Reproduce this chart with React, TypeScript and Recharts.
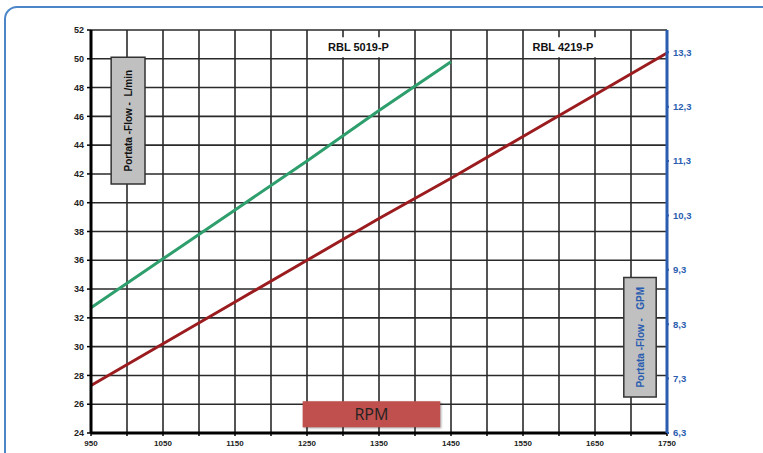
import React from 'react';
import {
  LineChart,
  Line,
  XAxis,
  YAxis,
  CartesianGrid,
  ReferenceArea,
} from 'recharts';

// RPM values and flows (L/min)
const rpm = [950, 1050, 1150, 1250, 1350, 1450, 1550, 1650, 1750];
const rbl4219 = [27.3, 30.2, 33.1, 36.0, 38.9, 41.7, 44.6, 47.5, 50.4];
const rbl5019 = [32.7, 36.1, 39.5, 42.9, 46.4, 49.8];

const xTicks = [950, 1000, 1050, 1100, 1150, 1200, 1250, 1300, 1350, 1400, 1450, 1500, 1550, 1600, 1650, 1700, 1750];
const lpmTicks = [24, 26, 28, 30, 32, 34, 36, 38, 40, 42, 44, 46, 48, 50, 52];
const gpmTicks = [6.3, 7.3, 8.3, 9.3, 10.3, 11.3, 12.3, 13.3];

const data = rpm.map((r, i) => ({
  rpm: r,
  r4219: rbl4219[i],
  r5019: i < rbl5019.length ? rbl5019[i] : undefined,
}));

const FONT = '"Liberation Sans", Arial, sans-serif';
const BLUE = '#2a5db0';
const NB = '\u00A0';

const XTick = (props: any) => {
  const { x, y, payload } = props;
  if ((payload.value - 950) % 100 !== 0) return null;
  return (
    <text x={x} y={y + 8} textAnchor="middle" fontFamily={FONT} fontSize={8} fontWeight="bold" fill="#222">
      {payload.value}
    </text>
  );
};

const App = () => {
  return (
    <div style={{ position: 'absolute', left: 0, top: 0, width: 763, height: 453, overflow: 'hidden', background: '#fff' }}>
      <div
        style={{
          position: 'absolute',
          left: 4,
          top: 6,
          width: 775,
          height: 480,
          border: '2.5px solid #4a86c8',
          borderRadius: 13,
          boxSizing: 'border-box',
        }}
      />
      <LineChart
        width={763}
        height={453}
        data={data}
        margin={{ top: 30, right: 0, bottom: 0, left: 0 }}
        style={{ position: 'absolute', left: 0, top: 0, fontFamily: FONT }}
      >
        <CartesianGrid yAxisId="left" stroke="#2a2a2a" strokeWidth={1.6} />
        <XAxis
          dataKey="rpm"
          type="number"
          domain={[950, 1750]}
          ticks={xTicks}
          interval={0}
          height={20}
          axisLine={{ stroke: '#000', strokeWidth: 3 }}
          tickLine={{ stroke: '#000', strokeWidth: 1.5 }}
          tickSize={3}
          tick={<XTick />}
        />
        <YAxis
          yAxisId="left"
          type="number"
          domain={[24, 52]}
          ticks={lpmTicks}
          interval={0}
          width={91}
          allowDataOverflow
          axisLine={{ stroke: '#000', strokeWidth: 3 }}
          tickLine={{ stroke: '#000', strokeWidth: 1.5 }}
          tickSize={4}
          tickMargin={3}
          tick={{ fontSize: 9, fontWeight: 'bold', fill: '#222', fontFamily: FONT }}
        />
        <YAxis
          yAxisId="right"
          type="number"
          orientation="right"
          domain={[6.3, 13.71]}
          ticks={gpmTicks}
          interval={0}
          width={96}
          allowDataOverflow
          axisLine={{ stroke: BLUE, strokeWidth: 3 }}
          tickLine={{ stroke: BLUE, strokeWidth: 2 }}
          tickSize={2}
          tickMargin={4}
          tickFormatter={(v: number) => v.toFixed(1).replace('.', ',')}
          tick={{ fontSize: 9.5, fontWeight: 'bold', fill: BLUE, fontFamily: FONT }}
        />
        <ReferenceArea
          yAxisId="left"
          x1={1271}
          x2={1372}
          y1={50.1}
          y2={51.5}
          fill="#fff"
          fillOpacity={1}
          stroke="none"
          label={{ value: 'RBL 5019-P', position: 'center', fill: '#111', fontSize: 11, fontWeight: 'bold', fontFamily: FONT }}
        />
        <ReferenceArea
          yAxisId="left"
          x1={1556}
          x2={1655}
          y1={50.1}
          y2={51.5}
          fill="#fff"
          fillOpacity={1}
          stroke="none"
          label={{ value: 'RBL 4219-P', position: 'center', fill: '#111', fontSize: 11, fontWeight: 'bold', fontFamily: FONT }}
        />
        <ReferenceArea
          yAxisId="left"
          x1={978}
          x2={1025}
          y1={41.3}
          y2={50.1}
          fill="#c0c0c0"
          fillOpacity={1}
          stroke="#333"
          strokeWidth={1.5}
          label={{ value: `Portata -Flow -${NB}${NB}L/min`, position: 'center', angle: -90, fill: '#111', fontSize: 10, fontWeight: 'bold', fontFamily: FONT }}
        />
        <ReferenceArea
          yAxisId="left"
          x1={1690}
          x2={1735}
          y1={26.5}
          y2={34.8}
          fill="#c0c0c0"
          fillOpacity={1}
          stroke="#333"
          strokeWidth={1.5}
          label={{ value: `Portata -Flow -${NB}${NB}${NB}GPM`, position: 'center', angle: -90, fill: BLUE, fontSize: 10, fontWeight: 'bold', fontFamily: FONT }}
        />
        <ReferenceArea
          yAxisId="left"
          x1={1244}
          x2={1435}
          y1={24.4}
          y2={26.2}
          fill="#c0504d"
          fillOpacity={1}
          stroke="none"
          style={{ filter: 'drop-shadow(1px 1px 1px rgba(0,0,0,0.35))' }}
          label={{ value: 'RPM', position: 'center', fill: '#222', fontSize: 16, fontFamily: '"Open Sans", "Liberation Sans", sans-serif' }}
        />
        <Line
          yAxisId="left"
          dataKey="r5019"
          stroke="#2e9e6c"
          strokeWidth={3}
          dot={false}
          isAnimationActive={false}
          connectNulls={false}
        />
        <Line
          yAxisId="left"
          dataKey="r4219"
          stroke="#9b1c1f"
          strokeWidth={3}
          dot={false}
          isAnimationActive={false}
        />
      </LineChart>
    </div>
  );
};

export default App;
